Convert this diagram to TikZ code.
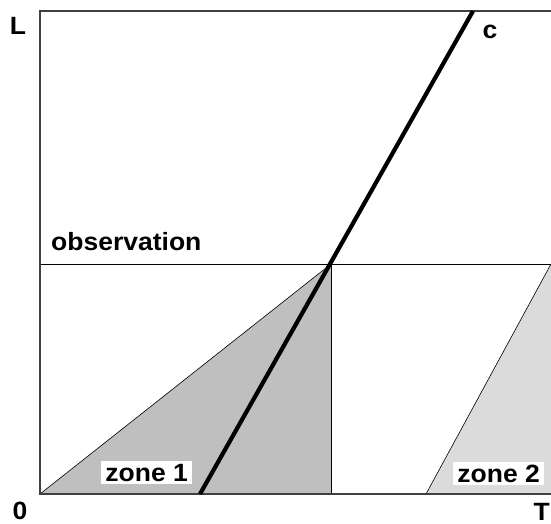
\documentclass[tikz,border=0pt]{standalone}
\usepackage{fontspec}
\setmainfont{Liberation Sans}
\begin{document}
\begin{tikzpicture}[x=1pt,y=-1pt,
  lbl/.style={font=\fontsize{25}{25}\bfseries\selectfont, inner sep=0pt, xscale=1.06},
  zonebox/.style={lbl, fill=white, inner xsep=4pt, inner ysep=3pt},
  frame/.style={draw=black!75, line width=1.4pt},
  thin/.style={draw=black, line width=0.9pt}]
\useasboundingbox (0,0) rectangle (551,524);
\coordinate (O) at (40,494);
\coordinate (TL) at (40,11);
\coordinate (TR) at (551,11);
\coordinate (BR) at (551,494);
\coordinate (OL) at (40,264);
\coordinate (OR) at (551,264);
\coordinate (P) at (331,264);
\coordinate (PB) at (331,494);
\coordinate (cB) at (200,494);
\coordinate (cT) at (473,11);
\coordinate (z2B) at (426,494);
\coordinate (z2T) at (551,264);
% zone fills
\fill[black!25] (O) -- (P) -- (PB) -- cycle;
\fill[black!14] (z2B) -- (z2T) -- (BR) -- cycle;
\draw[black, line width=0.6pt] (O) -- (P);
\draw[black, line width=0.6pt] (z2B) -- (z2T);
% frame and lines
\draw[thin] (OL) -- (OR);
\draw[thin] (P) -- (PB);
\draw[frame] (BR) -- (O) -- (TL) -- (TR);
\draw[line width=4.2pt] (cB) -- (cT);
% labels
\node[lbl, anchor=base] (L) at (18,35) {L};
\node[lbl, anchor=base] (c) at (490,39) {c};
\node[lbl, anchor=base] (zero) at (20,519) {0};
\node[lbl, anchor=base east] (T) at (550,520) {T};
\node[lbl, anchor=base west] (obs) at (51,250) {observation};
\node[zonebox, anchor=base west] (z1) at (101,481) {zone 1};
\node[zonebox, anchor=base west] (z2) at (453,482) {zone 2};
\end{tikzpicture}
\end{document}
